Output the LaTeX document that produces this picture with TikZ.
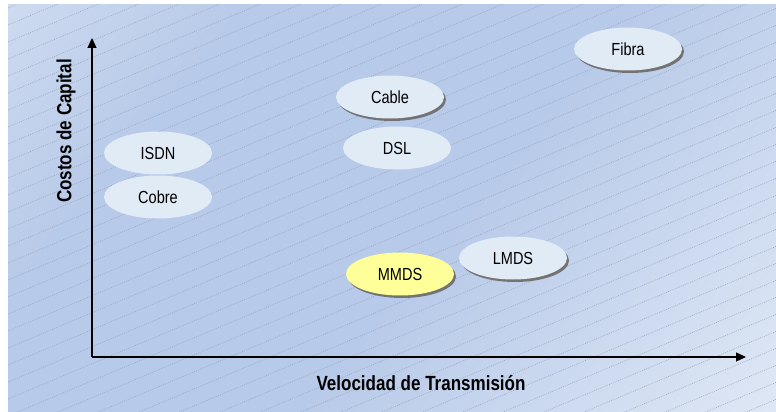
\documentclass[tikz,border=0pt]{standalone}
\usepackage{fontspec}
\setmainfont[FakeStretch=0.83]{Liberation Sans}
\usetikzlibrary{positioning, shapes, shadows, arrows.meta}
\definecolor{bglight}{HTML}{E2EAF6}
\definecolor{bgdark}{HTML}{B8CAE9}
\definecolor{hatch}{HTML}{98A4BB}
\definecolor{blobfill}{HTML}{E0EBF6}
\definecolor{blobyellow}{HTML}{FFFF99}
\pgfdeclarehorizontalshading{bgshade}{100bp}{color(0bp)=(bglight); color(30bp)=(bgdark);
  color(55bp)=(bgdark); color(88bp)=(bglight); color(100bp)=(bglight)}
\tikzset{
  blob/.style={ellipse, fill=blobfill, minimum width=108pt, minimum height=43pt,
    inner sep=0pt, font=\fontsize{17.5}{20}\selectfont},
  sblob/.style={blob, drop shadow={shadow xshift=2pt, shadow yshift=-2.5pt,
    fill=black!55, opacity=1}},
  axislabel/.style={font=\fontsize{20.5}{23}\selectfont\bfseries}
}

\begin{document}
\begin{tikzpicture}[x=1pt, y=-1pt]
    \useasboundingbox (0,0) rectangle (776,412);
    \shade[shading=bgshade, shading angle=-40] (8,5) rectangle (776,412);
    \begin{scope}
        \clip (8,5) rectangle (776,412);
        \foreach \c in {8,25,...,760}
            \draw[hatch, dash pattern=on 0.8pt off 1.2pt, line width=0.6pt] (8,\c) -- (776,\c-322.6);
    \end{scope}
    \coordinate (origin) at (92,357);
    \coordinate (ytop) at (92,38);
    \coordinate (xend) at (746,357);
    \draw[line width=1.3pt, -{Triangle[length=10pt,width=9pt]}] (origin) -- (ytop);
    \draw[line width=1.3pt, -{Triangle[length=10pt,width=9pt]}] (origin) -- (xend);
    \node[axislabel] (xlab) at (421,383) {Velocidad de Transmisión};
    \node[axislabel, rotate=90] (ylab) at (66,131) {Costos de Capital};
    \node[blob] (isdn) at (158,153) {ISDN};
    \node[blob] (cobre) at (158,197) {Cobre};
    \node[sblob] (cable) at (390,97) {Cable};
    \node[blob] (dsl) at (397,148) {DSL};
    \node[sblob, fill=blobyellow] (mmds) at (400,274) {MMDS};
    \node[sblob] (lmds) at (513,258) {LMDS};
    \node[sblob] (fibra) at (628,49) {Fibra};
\end{tikzpicture}
\end{document}
